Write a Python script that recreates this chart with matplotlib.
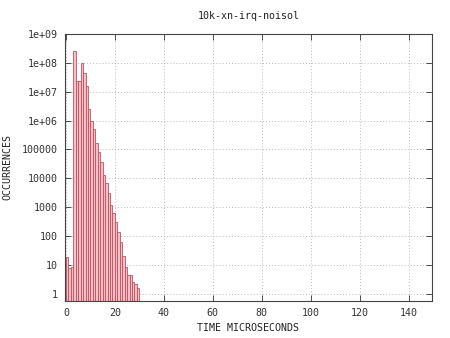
import numpy as np
import matplotlib
matplotlib.use("Agg")
import matplotlib.pyplot as plt
from matplotlib.ticker import FixedLocator, NullLocator

# histogram of latencies, one bin per microsecond
time_us = list(range(30))
occurrences = [18, 7, 8, 2.6e8, 2.4e7, 2.4e7, 1.0e8, 4.5e7, 1.6e7, 2.5e6,
               1.0e6, 5.0e5, 1.6e5, 8.0e4, 3.5e4, 1.3e4, 7.0e3, 3.0e3, 1.2e3, 6.0e2,
               3.0e2, 1.3e2, 60, 20, 8, 4, 4, 2, 1.6, 1]

title = "10k-xn-irq-noisol"
xlabel = "TIME MICROSECONDS"
ylabel = "OCCURRENCES"
xticks = [0, 20, 40, 60, 80, 100, 120, 140]
yticks = [1, 10, 100, 1000, 10000, 100000, 1e6, 1e7, 1e8, 1e9]
ytick_labels = ["1", "10", "100", "1000", "10000", "100000",
                "1e+06", "1e+07", "1e+08", "1e+09"]

plt.rcParams['font.family'] = ['DejaVu Sans Mono']
fs = 7.2

fig = plt.figure(figsize=(4.5, 3.38), dpi=100)
ax = fig.add_axes([0.1444, 0.1095, 0.8156, 0.7899])

ax.bar(time_us, occurrences, width=1.0, align="edge", bottom=0.55,
       color="#f4c0c6", edgecolor="#c2505f", linewidth=0.6)

ax.set_yscale("log")
ax.set_xlim(-0.4, 149.6)
ax.set_ylim(0.55, 1e9)

ax.xaxis.set_major_locator(FixedLocator(xticks))
ax.set_xticklabels([str(t) for t in xticks])
ax.yaxis.set_major_locator(FixedLocator(yticks))
ax.yaxis.set_minor_locator(NullLocator())
ax.set_yticklabels(ytick_labels)

ax.tick_params(direction="in", length=4, width=0.6, labelsize=fs,
               colors="#333333", top=True, right=True, pad=5)
ax.grid(True, linestyle=(0, (1.2, 2.5)), color="#b0b0b0", linewidth=0.6)
ax.set_axisbelow(True)
for s in ax.spines.values():
    s.set_color("#444444")
    s.set_linewidth(0.8)

ax.set_title(title, fontsize=fs, color="#222222", pad=11)
ax.set_xlabel(xlabel, fontsize=fs, color="#222222", labelpad=4)
ax.set_ylabel(ylabel, fontsize=fs, color="#222222", labelpad=7)

fig.savefig("out.png", dpi=100)
